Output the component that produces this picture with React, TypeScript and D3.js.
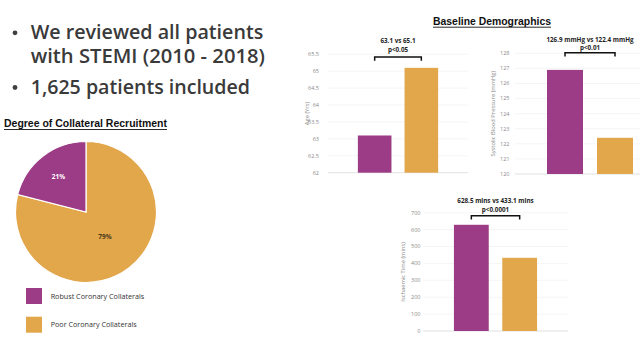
import React from 'react';
import * as d3 from 'd3';

const groups = ['Robust Coronary Collaterals', 'Poor Coronary Collaterals'];
const groupColors = ['#9c3c86', '#e2a64b'];

const pieValues = [79, 21]; // Poor, Robust (drawn clockwise from 12 o'clock)
const pieLabels = ['79%', '21%'];

const ageValues = [63.1, 65.1];
const ageTicks = [62, 62.5, 63, 63.5, 64, 64.5, 65, 65.5];
const sbpValues = [126.9, 122.4];
const sbpTicks = [120, 121, 122, 123, 124, 125, 126, 127, 128];
const ischValues = [628.5, 433.1];
const ischTicks = [0, 100, 200, 300, 400, 500, 600, 700];

const bullets = [
  ['We reviewed all patients', 'with STEMI (2010 - 2018)'],
  ['1,625 patients included'],
];
const bulletWidths = [[232.6, 234.3], [219.3]];

const panels = [
  {
    values: ageValues, ticks: ageTicks, domain: [62, 65.5], title: 'Age (Yrs)',
    note: '63.1 vs 65.1', p: 'p<0.05',
    xr: [328, 468], yr: [172.7, 54.3], labelX: 319, titleX: 307, bracketY: 57, noteY: 41,
  },
  {
    values: sbpValues, ticks: sbpTicks, domain: [120, 128], title: 'Systolic Blood Pressure (mmHg)',
    note: '126.9 mmHg vs 122.4 mmHg', p: 'p<0.01',
    xr: [515, 665], yr: [174, 53.3], labelX: 509.5, titleX: 493, bracketY: 52.7, noteY: 39.3,
  },
  {
    values: ischValues, ticks: ischTicks, domain: [0, 700], title: 'Ischaemic Time (mins)',
    note: '628.5 mins vs 433.1 mins', p: 'p<0.0001',
    xr: [423, 568], yr: [331, 212.7], labelX: 420.5, titleX: 403, bracketY: 215.7, noteY: 200.7,
  },
];

function BarPanel({ cfg }) {
  const x = d3.scaleBand().domain(groups).range(cfg.xr).paddingInner(0.28).paddingOuter(0.64);
  const y = d3.scaleLinear().domain(cfg.domain).range(cfg.yr);
  const c0 = x(groups[0]) + x.bandwidth() / 2;
  const c1 = x(groups[1]) + x.bandwidth() / 2;
  const cx = (c0 + c1) / 2;
  return (
    <g>
      {cfg.ticks.map(t => (
        <g key={t}>
          <line x1={cfg.xr[0]} x2={cfg.xr[1]} y1={y(t)} y2={y(t)}
            stroke={t === cfg.domain[0] ? '#d9d9d9' : '#f3f3f3'} strokeWidth={0.8} />
          <text x={cfg.labelX} y={y(t)} dy="0.35em" textAnchor="end" fontSize={5.5} fill="#8a8a8a">{t}</text>
        </g>
      ))}
      {cfg.values.map((v, i) => (
        <rect key={i} x={x(groups[i])} width={x.bandwidth()} y={y(v)}
          height={y(cfg.domain[0]) - y(v)} fill={groupColors[i]} />
      ))}
      <text transform={`translate(${cfg.titleX},${(cfg.yr[0] + cfg.yr[1]) / 2}) rotate(-90)`}
        textAnchor="middle" dy="0.35em" fontSize={5.8} fill="#8a8a8a">{cfg.title}</text>
      <text x={cx} y={cfg.noteY} textAnchor="middle" dy="0.35em" fontSize={6.3} fontWeight="bold" fill="#222">{cfg.note}</text>
      <text x={cx} y={cfg.noteY + 8.7} textAnchor="middle" dy="0.35em" fontSize={6.3} fontWeight="bold" fill="#222">{cfg.p}</text>
      <path d={`M${c0},${cfg.bracketY + 3.8}V${cfg.bracketY}H${c1}V${cfg.bracketY + 3.8}`}
        fill="none" stroke="#111" strokeWidth={1.5} />
    </g>
  );
}

export default function App() {
  const cx = 86, cy = 212, r = 70.5;
  const pie = d3.pie().sort(null).value(d => d)(pieValues);
  const arc = d3.arc().innerRadius(0).outerRadius(r);
  const labelR = [0.44 * r, 0.64 * r];
  const pieColors = [groupColors[1], groupColors[0]];

  return (
    <svg width={640} height={360} style={{ position: 'absolute', left: 0, top: 0, background: '#fff' }}
      fontFamily="'Open Sans', sans-serif">
      {bullets.map((lines, bi) => {
        const base = bi === 0 ? 39.3 : 94;
        return (
          <g key={bi}>
            <circle cx={15} cy={base - 6.5} r={2.4} fill="#404040" />
            {lines.map((l, li) => (
              <text key={li} x={30.7} y={base + li * 23.4} fontSize={19} fontWeight={600} fill="#3a3a3a"
                textLength={bulletWidths[bi][li]} lengthAdjust="spacingAndGlyphs">{l}</text>
            ))}
          </g>
        );
      })}

      <text x={4} y={127.3} fontFamily="'Liberation Sans', Arial, sans-serif" fontWeight="bold" fontSize={10}
        fill="#111" textLength={163} lengthAdjust="spacingAndGlyphs">Degree of Collateral Recruitment</text>
      <line x1={4} x2={167} y1={129.5} y2={129.5} stroke="#111" strokeWidth={0.9} />

      <text x={433} y={25} fontFamily="'Liberation Sans', Arial, sans-serif" fontWeight="bold" fontSize={10}
        fill="#111" textLength={118} lengthAdjust="spacingAndGlyphs">Baseline Demographics</text>
      <line x1={433} x2={551} y1={27.2} y2={27.2} stroke="#111" strokeWidth={0.9} />

      <g transform={`translate(${cx},${cy})`}>
        {pie.map((s, i) => (
          <path key={i} d={arc(s)} fill={pieColors[i]} stroke="#fff" strokeWidth={1.2} />
        ))}
        {pie.map((s, i) => {
          const c = d3.arc().innerRadius(labelR[i]).outerRadius(labelR[i]).centroid(s);
          return (
            <text key={i} x={c[0]} y={c[1]} dy="0.35em" textAnchor="middle" fontSize={6.5} fontWeight="bold"
              fill={i === 1 ? '#fff' : '#4a3a1a'}>{pieLabels[i]}</text>
          );
        })}
      </g>

      {groups.map((g, i) => (
        <g key={g}>
          <rect x={26} y={288 + i * 28.7} width={16} height={16} fill={groupColors[i]} />
          <text x={50.7} y={296 + i * 28.7} dy="0.35em" fontSize={7.2} fill="#333">{g}</text>
        </g>
      ))}

      {panels.map((p, i) => <BarPanel key={i} cfg={p} />)}
    </svg>
  );
}
